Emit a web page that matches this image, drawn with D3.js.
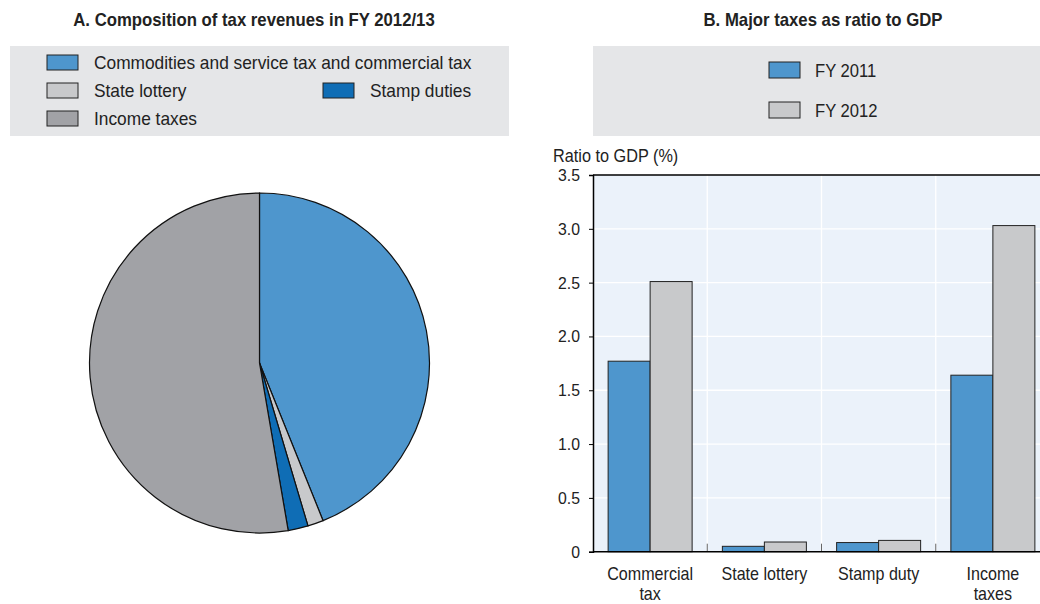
<!DOCTYPE html>
<html><head><meta charset="utf-8">
<script src="https://cdn.jsdelivr.net/npm/d3@7"></script>
<style>
body{margin:0;background:#fff;}
svg text{font-family:"Liberation Sans Narrow","Arial Narrow","Liberation Sans",sans-serif;fill:#222;}
</style></head>
<body><svg id="c" width="1040" height="604"></svg>
<script>
// Panel A data
const pieCategories = ["Commodities and service tax and commercial tax","State lottery","Stamp duties","Income taxes"];
const pieValues = [43.9, 1.5, 1.9, 52.7];
const pieColors = ["#4E96CD","#C8C9CB","#0F6DB5","#A1A2A6"];
// Panel B data
const barCategories = [["Commercial","tax"],["State lottery"],["Stamp duty"],["Income","taxes"]];
const seriesNames = ["FY 2011","FY 2012"];
const fy2011 = [1.77, 0.05, 0.085, 1.64];
const fy2012 = [2.51, 0.09, 0.105, 3.03];
const seriesColors = ["#4E96CD","#C8C9CB"];
const yTicks = [0,0.5,1.0,1.5,2.0,2.5,3.0,3.5];
const yTickLabels = ["0","0.5","1.0","1.5","2.0","2.5","3.0","3.5"];

(function(){
const svg = d3.select("#c");
// condensed-looking text helper
function txt(parent, x, y, size, sx, s, anchor, bold){
  return parent.append("text")
    .attr("transform",`translate(${x},${y}) scale(${sx},1)`)
    .attr("font-size",size).attr("text-anchor",anchor||"start")
    .attr("font-weight",bold?"bold":null).text(s);
}

// ---------- Panel A ----------
txt(svg,254,26,18,0.93,"A. Composition of tax revenues in FY 2012/13","middle",true);
svg.append("rect").attr("x",10).attr("y",46).attr("width",499).attr("height",90).attr("fill","#E5E6E8");
const legPos = [[47,62],[47,90],[323,90],[47,118]];
pieCategories.forEach((c,i)=>{
  const [lx,ly]=legPos[i];
  svg.append("rect").attr("x",lx).attr("y",ly-7).attr("width",31).attr("height",15)
    .attr("fill",pieColors[i]).attr("stroke","#222").attr("stroke-width",1);
  txt(svg,lx+47,ly+6.5,17.5,0.99,c);
});
const pie = d3.pie().sort(null).value(d=>d);
const arc = d3.arc().innerRadius(0).outerRadius(170);
const gP = svg.append("g").attr("transform","translate(259.5,363)");
gP.selectAll("path").data(pie(pieValues)).join("path")
  .attr("d",arc).attr("fill",(d,i)=>pieColors[i]).attr("stroke","#111").attr("stroke-width",1.2);

// ---------- Panel B ----------
txt(svg,823,26,18,0.93,"B. Major taxes as ratio to GDP","middle",true);
svg.append("rect").attr("x",593).attr("y",46).attr("width",460).attr("height",90).attr("fill","#E5E6E8");
seriesNames.forEach((s,i)=>{
  const ly = 70 + i*40;
  svg.append("rect").attr("x",769).attr("y",ly-8).attr("width",31).attr("height",16)
    .attr("fill",seriesColors[i]).attr("stroke","#222").attr("stroke-width",1);
  txt(svg,815,ly+7,17.5,0.95,s);
});

const pl=593, pr=1050, pt=175, pb=551.7;
const x = d3.scaleBand().domain(d3.range(barCategories.length)).range([pl,pr]).paddingInner(0).paddingOuter(0);
const y = d3.scaleLinear().domain([0,3.5]).range([pb,pt]);
svg.append("rect").attr("x",pl).attr("y",pt).attr("width",pr-pl).attr("height",pb-pt).attr("fill","#EBF2FA");
// grid
svg.append("g").selectAll("line").data(yTicks.slice(1,-1)).join("line")
  .attr("x1",pl).attr("x2",pr).attr("y1",d=>y(d)).attr("y2",d=>y(d))
  .attr("stroke","#fff").attr("stroke-width",1.3);
svg.append("g").selectAll("line").data(d3.range(1,barCategories.length)).join("line")
  .attr("x1",d=>x(d)).attr("x2",d=>x(d)).attr("y1",pt).attr("y2",pb)
  .attr("stroke","#fff").attr("stroke-width",1.3);
// bars
const xs = d3.scaleBand().domain([0,1]).range([0,x.bandwidth()]).paddingInner(0).paddingOuter(0.36);
[fy2011,fy2012].forEach((vals,si)=>{
  svg.append("g").selectAll("rect").data(vals).join("rect")
    .attr("x",(d,i)=>x(i)+xs(si)).attr("width",xs.bandwidth())
    .attr("y",d=>y(d)).attr("height",d=>pb-y(d))
    .attr("fill",seriesColors[si]).attr("stroke","#222").attr("stroke-width",1);
});
// category tick marks
svg.append("g").selectAll("line").data(d3.range(1,barCategories.length)).join("line")
  .attr("x1",d=>x(d)).attr("x2",d=>x(d)).attr("y1",pb-8).attr("y2",pb)
  .attr("stroke","#666").attr("stroke-width",1);
// axes lines
svg.append("line").attr("x1",pl).attr("x2",pr).attr("y1",pt).attr("y2",pt).attr("stroke","#000").attr("stroke-width",1.5);
svg.append("line").attr("x1",pl).attr("x2",pr).attr("y1",pb).attr("y2",pb).attr("stroke","#000").attr("stroke-width",1.5);
const yAxis = d3.axisLeft(y).tickValues(yTicks).tickFormat((d,i)=>yTickLabels[i]).tickSize(4).tickPadding(9);
const ga = svg.append("g").attr("transform",`translate(${pl},0)`).call(yAxis);
ga.select(".domain").attr("stroke","#000").attr("stroke-width",1.5);
ga.selectAll(".tick line").attr("stroke","#000");
ga.selectAll(".tick text").attr("font-size",17).attr("font-family",null).attr("fill","#222")
  .attr("transform","scale(0.93,1)").attr("x",function(){return -13/0.93;});
txt(svg,553,162,17.5,0.93,"Ratio to GDP (%)");
// x labels
barCategories.forEach((lines,i)=>{
  const cx = x(i)+x.bandwidth()/2;
  lines.forEach((l,j)=>txt(svg,cx,580+j*20,17.5,0.92,l,"middle"));
});
})();
</script></body></html>
